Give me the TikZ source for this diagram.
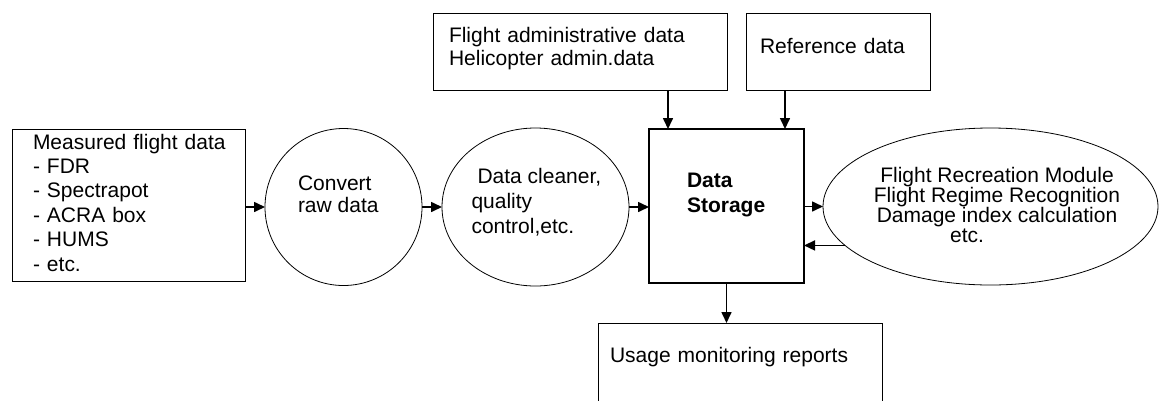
\documentclass[tikz,border=0pt]{standalone}
\usepackage{fontspec}
\setmainfont{Liberation Sans}
\usetikzlibrary{shapes.geometric,arrows.meta}

% text block of fixed width, zero width for the node shape
\newcommand{\centred}[3][\centering]{\makebox[0pt]{\parbox[t]{#2}{#1#3}}}

\tikzset{
  box/.style={draw, line width=0.8pt, rectangle, anchor=north west, align=left,
    inner ysep=0pt, outer sep=0pt, font=\fontsize{21}{24}\selectfont},
  round/.style={draw, line width=0.8pt, inner sep=0pt, outer sep=0pt,
    font=\fontsize{21}{24}\selectfont},
  arr/.style={line width=1.6pt, -{Triangle[length=11pt,width=10pt]}},
}

\begin{document}
\begin{tikzpicture}[x=1pt,y=1pt]
\path[use as bounding box] (0,0) rectangle (1160,-400);

\node[box, text width=191pt, inner xsep=21pt, text height=20pt, text depth=132pt, font=\fontsize{21}{24.4}\selectfont] (measured) at (12,-129) {Measured~flight~data\\- FDR\\- Spectrapot\\- ACRA box\\- HUMS\\- etc.};

\node[round, circle, minimum size=157pt, text height=15pt, text depth=49pt, font=\fontsize{21}{22}\selectfont] (convert) at (343.5,-207) {\centred[\raggedright]{91pt}{Convert\\raw data}};

\node[round, ellipse, minimum width=187pt, minimum height=158pt, text height=15pt, text depth=63pt, font=\fontsize{21}{25}\selectfont] (cleaner) at (535.5,-207) {\centred[\raggedright\leftskip=8pt]{144pt}{\hspace*{6pt}Data cleaner,\\quality\\control,etc.}};

\node[box, line width=2.5pt, text width=79pt, inner xsep=38pt, text height=58pt, text depth=96pt, font=\fontsize{21}{25}\selectfont\bfseries] (storage) at (649,-129) {Data\\Storage};

\node[round, ellipse, minimum width=335pt, minimum height=157pt, text height=15pt, text depth=64pt, font=\fontsize{21}{20}\selectfont] (flight) at (990.5,-206.5) {\hspace*{13pt}\centred{250pt}{Flight Recreation Module\\Flight Regime Recognition\\Damage index calculation\\etc.\hspace*{60pt}}};

% boxes above and below the storage
\node[box, text width=262pt, inner xsep=16pt, text height=29pt, text depth=48pt, font=\fontsize{21}{23}\selectfont] (admin) at (433,-13) {Flight administrative data\\Helicopter admin.data};
\node[box, text width=156pt, inner xsep=14pt, text height=40pt, text depth=37pt] (reference) at (746,-13) {Reference data};
\node[box, text width=260pt, inner xsep=12pt, text height=39pt, text depth=40pt] (usage) at (598,-323) {Usage monitoring reports};

\coordinate (inA) at (668,-129);
\coordinate (inB) at (785,-129);

\draw[arr] (measured.east |- convert.west) -- (convert.west);
\draw[arr] (convert.east) -- (cleaner.west);
\draw[arr] (cleaner.east) -- (storage.west |- cleaner.east);
\draw[arr] (storage.east |- flight.west) -- (flight.west);
\draw[arr] (flight.195) -- (storage.east |- flight.195);
\draw[arr] (admin.south -| inA) -- (inA);
\draw[arr] (reference.south -| inB) -- (inB);
\draw[arr] (storage.south) -- (storage.south |- usage.north);
\end{tikzpicture}
\end{document}
